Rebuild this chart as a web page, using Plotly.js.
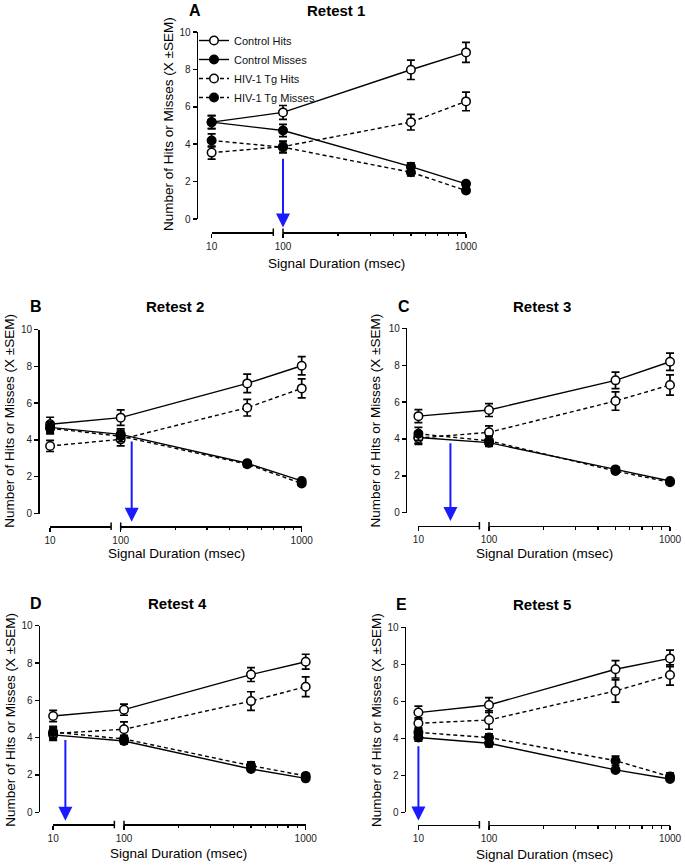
<!DOCTYPE html>
<html>
<head>
<meta charset="utf-8">
<script src="https://cdn.plot.ly/plotly-3.0.1.min.js"></script>
<style>
  html, body { margin: 0; padding: 0; background: #fff; }
  #plot { width: 685px; height: 866px; }
</style>
</head>
<body>
<div id="plot"></div>
<script>
// ---- data ----
const retests = ["Retest 1", "Retest 2", "Retest 3", "Retest 4", "Retest 5"];
const letters = ["A", "B", "C", "D", "E"];
const durations = [10, 100, 500, 1000];
const majorTicks = [100, 1000];
const minorTicks = [200, 300, 400, 500, 600, 700, 800, 900];

// one row per retest, one value per duration
const ctrlHits = [
  [5.18, 5.70, 7.98, 8.91],
  [4.85, 5.21, 7.07, 8.03],
  [5.24, 5.57, 7.18, 8.19],
  [5.16, 5.50, 7.38, 8.07],
  [5.39, 5.80, 7.73, 8.32]
];
const ctrlHitsSem = [
  [0.35, 0.37, 0.52, 0.53],
  [0.38, 0.42, 0.50, 0.50],
  [0.35, 0.35, 0.45, 0.47],
  [0.30, 0.30, 0.37, 0.40],
  [0.35, 0.40, 0.47, 0.45]
];
const ctrlMisses = [
  [5.18, 4.73, 2.80, 1.88],
  [4.68, 4.30, 2.73, 1.77],
  [4.08, 3.80, 2.35, 1.72],
  [4.15, 3.82, 2.32, 1.82],
  [4.04, 3.73, 2.29, 1.80]
];
const ctrlMissesSem = [
  [0.35, 0.33, 0.20, 0.10],
  [0.30, 0.30, 0.15, 0.10],
  [0.30, 0.20, 0.12, 0.08],
  [0.30, 0.15, 0.10, 0.08],
  [0.20, 0.20, 0.10, 0.08]
];
const tgHits = [
  [3.55, 3.87, 5.18, 6.29],
  [3.67, 4.03, 5.75, 6.80],
  [4.05, 4.36, 6.06, 6.93],
  [4.22, 4.45, 5.96, 6.73],
  [4.81, 4.99, 6.56, 7.42]
];
const tgHitsSem = [
  [0.35, 0.30, 0.42, 0.50],
  [0.30, 0.35, 0.45, 0.52],
  [0.35, 0.35, 0.50, 0.55],
  [0.30, 0.40, 0.50, 0.53],
  [0.30, 0.50, 0.60, 0.55]
];
const tgMisses = [
  [4.20, 3.84, 2.50, 1.52],
  [4.63, 4.20, 2.68, 1.63],
  [4.28, 3.90, 2.26, 1.65],
  [4.30, 3.93, 2.50, 1.95],
  [4.32, 4.04, 2.79, 1.93]
];
const tgMissesSem = [
  [0.35, 0.30, 0.20, 0.12],
  [0.30, 0.30, 0.15, 0.10],
  [0.35, 0.25, 0.12, 0.08],
  [0.30, 0.20, 0.20, 0.12],
  [0.25, 0.20, 0.25, 0.20]
];
// blue arrows: duration they point at, and where they start
const arrowAt = [100, 115, 52, 26, 10];
const arrowTop = [3.3, 4.0, 3.85, 3.95, 3.65];

// ---- layout helpers ----
const W = 685, H = 866;
const FONT = '"Liberation Sans", Arial, Helvetica, sans-serif';
const px = v => v / W;
const py = v => 1 - v / H;

// broken x axis: 10..90 squeezed into a short linear piece, 100..1000 on log scale
const T10 = 1.61, TBRK = 1.947, SEG1_END = 90, ARROW_TIP = -0.45;
function brk(v){ return v >= 100 ? Math.log10(v) : T10 + (v - 10) / (SEG1_END - 10) * (TBRK - T10); }

// pixel boxes of the five panels
const geom = [
  {yx: 198,   top: 32,    bot: 219,   axY: 232,   x100: 283,   x1000: 466,   title: [335.5, 11],  letter: [195, 11],    ytitle: [169, 124],   xtitle: [336.7, 263]},
  {yx: 39.5,  top: 329.5, bot: 513.5, axY: 526,   x100: 120.7, x1000: 301.7, title: [174.7, 306.7], letter: [36, 306.7], ytitle: [9.2, 420.5], xtitle: [176.3, 553]},
  {yx: 407.3, top: 328.4, bot: 512.7, axY: 525.5, x100: 489,   x1000: 670,   title: [542, 306.7], letter: [404, 306.7], ytitle: [375, 420.5], xtitle: [544, 553]},
  {yx: 40,    top: 625.7, bot: 812.3, axY: 824.3, x100: 124,   x1000: 305.7, title: [177, 603.3], letter: [36, 603.3],  ytitle: [9.7, 720],   xtitle: [178.3, 853.5]},
  {yx: 406,   top: 627.3, bot: 812.3, axY: 824.5, x100: 489,   x1000: 670,   title: [542, 604.3], letter: [401.5, 604.3], ytitle: [376, 720], xtitle: [544, 854]}
];

const series = [
  {name: "Control Hits",    y: ctrlHits,   e: ctrlHitsSem,   dash: "solid",   fill: "#ffffff"},
  {name: "Control Misses",  y: ctrlMisses, e: ctrlMissesSem, dash: "solid",   fill: "#000000"},
  {name: "HIV-1 Tg Hits",   y: tgHits,     e: tgHitsSem,     dash: "4px,3px", fill: "#ffffff"},
  {name: "HIV-1 Tg Misses", y: tgMisses,   e: tgMissesSem,   dash: "4px,3px", fill: "#000000"}
];

const layout = {
  width: W, height: H,
  margin: {l: 0, r: 0, t: 0, b: 0},
  paper_bgcolor: "#fff",
  plot_bgcolor: "rgba(0,0,0,0)",
  font: {family: FONT, color: "#000"},
  showlegend: true,
  legend: {
    x: px(194), y: py(26), xanchor: "left", yanchor: "top",
    bgcolor: "rgba(0,0,0,0)", font: {family: FONT, size: 11, color: "#111"},
    itemwidth: 30, tracegroupgap: 0
  },
  annotations: [],
  shapes: []
};

const data = [];
const tickFont = {family: FONT, size: 10, color: "#222"};

geom.forEach((g, i) => {
  const n = i + 1;
  const xs = n === 1 ? "" : String(n);
  const a = g.x1000 - g.x100;                 // pixels per decade
  const pos2px = t => g.x100 + (t - 2) * a;

  // hidden data axis in "broken" units
  layout["xaxis" + xs] = {
    visible: false,
    domain: [px(g.yx), px(g.x1000 + 8)],
    range: [2 - (g.x100 - g.yx) / a, 3 + 8 / a],
    anchor: "y" + xs
  };
  layout["yaxis" + xs] = {
    domain: [py(g.bot), py(g.top)],
    range: [0, 10], dtick: 2, tick0: 0,
    anchor: "x" + xs,
    showline: true, linecolor: "#000", linewidth: 1.5,
    ticks: "outside", ticklen: 4, tickwidth: 1.5, tickcolor: "#000",
    showgrid: false, zeroline: false,
    tickfont: tickFont
  };
  // first piece of the broken axis (10 ... )
  layout["xaxis" + (n + 5)] = {
    domain: [px(pos2px(T10)), px(pos2px(TBRK))],
    range: [10, SEG1_END],
    tickmode: "array", tickvals: [10], ticktext: ["10"],
    anchor: "free", position: py(g.axY),
    showline: true, linecolor: "#000", linewidth: 1.5,
    ticks: "outside", ticklen: 4, tickwidth: 1.5, tickcolor: "#000",
    showgrid: false, zeroline: false,
    tickfont: tickFont
  };
  // second piece (100 ... 1000, log)
  layout["xaxis" + (n + 10)] = {
    domain: [px(g.x100), px(g.x1000)],
    type: "log", range: [2, 3],
    tickmode: "array", tickvals: majorTicks, ticktext: majorTicks.map(String),
    minor: {tickmode: "array", tickvals: minorTicks, ticks: "outside", ticklen: 2.5, tickwidth: 1.2, tickcolor: "#000", showgrid: false},
    anchor: "free", position: py(g.axY),
    showline: true, linecolor: "#000", linewidth: 1.5,
    ticks: "outside", ticklen: 4, tickwidth: 1.5, tickcolor: "#000",
    showgrid: false, zeroline: false,
    tickfont: tickFont
  };
  // empty traces so that both axis pieces get drawn
  [n + 5, n + 10].forEach(k => {
    data.push({type: "scatter", mode: "markers", x: [], y: [], xaxis: "x" + k, yaxis: "y" + xs,
               showlegend: false, hoverinfo: "skip"});
  });

  // caps at the axis break
  [TBRK, 2].forEach(t => {
    layout.shapes.push({
      type: "line", xref: "x" + xs, yref: "paper",
      x0: t, x1: t, y0: py(g.axY - 3.5), y1: py(g.axY + 4),
      line: {color: "#000", width: 1.5}
    });
  });

  series.forEach(s => {
    data.push({
      type: "scatter", mode: "lines+markers",
      name: s.name, legendgroup: s.name, showlegend: i === 0,
      xaxis: "x" + xs, yaxis: "y" + xs,
      x: durations.map(brk),
      y: s.y[i],
      error_y: {type: "data", array: s.e[i], visible: true, color: "#000", thickness: 1.7, width: 4},
      line: {color: "#000", width: 1.4, dash: s.dash},
      marker: {symbol: "circle", size: 8.5, color: s.fill, line: {color: "#000", width: 1.5}},
      cliponaxis: false,
      hoverinfo: "skip"
    });
  });

  // blue arrow
  layout.annotations.push({
    xref: "x" + xs, yref: "y" + xs, axref: "x" + xs, ayref: "y" + xs,
    x: brk(arrowAt[i]), y: ARROW_TIP, ax: brk(arrowAt[i]), ay: arrowTop[i],
    text: "", showarrow: true, arrowhead: 2, arrowsize: 1.4, arrowwidth: 2,
    arrowcolor: "#1a1aff", standoff: 0
  });

  // texts
  layout.annotations.push(
    {xref: "paper", yref: "paper", x: px(g.title[0]), y: py(g.title[1]), xanchor: "center", yanchor: "middle",
     text: "<b>" + retests[i] + "</b>", showarrow: false, font: {family: FONT, size: 15, color: "#000"}},
    {xref: "paper", yref: "paper", x: px(g.letter[0]), y: py(g.letter[1]), xanchor: "center", yanchor: "middle",
     text: "<b>" + letters[i] + "</b>", showarrow: false, font: {family: FONT, size: 16, color: "#000"}},
    {xref: "paper", yref: "paper", x: px(g.ytitle[0]), y: py(g.ytitle[1]), xanchor: "center", yanchor: "middle",
     text: "Number of Hits or Misses (X ±SEM)", textangle: -90, showarrow: false, font: {family: FONT, size: 13.5, color: "#000"}},
    {xref: "paper", yref: "paper", x: px(g.xtitle[0]), y: py(g.xtitle[1]), xanchor: "center", yanchor: "middle",
     text: "Signal Duration (msec)", showarrow: false, font: {family: FONT, size: 13.5, color: "#000"}}
  );
});

Plotly.newPlot("plot", data, layout, {displayModeBar: false, staticPlot: true});
</script>
</body>
</html>
